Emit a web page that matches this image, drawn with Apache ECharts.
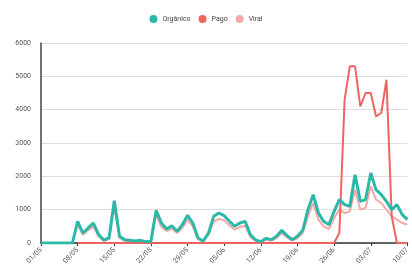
<!DOCTYPE html>
<html>
<head>
<meta charset="utf-8">
<script src="https://cdn.jsdelivr.net/npm/echarts@6/dist/echarts.min.js"></script>
<style>
  html, body { margin: 0; padding: 0; background: #fff; }
  #chart { width: 412px; height: 273px; }
</style>
</head>
<body>
<div id="chart"></div>
<script>
// dias (01/05 a 10/07)
const dias = [
  '01/05','02/05','03/05','04/05','05/05','06/05','07/05','08/05','09/05','10/05',
  '11/05','12/05','13/05','14/05','15/05','16/05','17/05','18/05','19/05','20/05',
  '21/05','22/05','23/05','24/05','25/05','26/05','27/05','28/05','29/05','30/05',
  '31/05','01/06','02/06','03/06','04/06','05/06','06/06','07/06','08/06','09/06',
  '10/06','11/06','12/06','13/06','14/06','15/06','16/06','17/06','18/06','19/06',
  '20/06','21/06','22/06','23/06','24/06','25/06','26/06','27/06','28/06','29/06',
  '30/06','01/07','02/07','03/07','04/07','05/07','06/07','07/07','08/07','09/07',
  '10/07'
];

const organico = [
  0, 0, 0, 0, 0, 0, 0, 650, 300, 450,
  600, 250, 90, 150, 1270, 200, 100, 80, 60, 80,
  40, 50, 980, 600, 420, 520, 350, 550, 830, 600,
  150, 60, 300, 800, 900, 820, 650, 500, 600, 650,
  250, 90, 40, 140, 100, 200, 380, 220, 100, 200,
  380, 1000, 1450, 900, 650, 550, 950, 1300, 1150, 1100,
  2050, 1250, 1300, 2100, 1600, 1450, 1250, 1000, 1150, 850,
  700
];

const pago = [
  null, null, null, null, null, null, null, 0, 0, 0,
  0, 0, 0, 0, 0, 0, 0, 0, 0, 0,
  0, 0, 0, 0, 0, 0, 0, 0, 0, 0,
  0, 0, 0, 0, 0, 0, 0, 0, 0, 0,
  0, 0, 0, 0, 0, 0, 0, 0, 0, 0,
  0, 0, 0, 0, 0, 0, 0, 300, 4300, 5300,
  5300, 4100, 4500, 4500, 3800, 3900, 4900, 800, 0, 0,
  0
];

const viral = [
  null, null, null, null, null, null, null, 550, 250, 380,
  500, 200, 60, 120, 1100, 150, 60, 50, 40, 50,
  30, 40, 850, 480, 360, 430, 300, 450, 700, 500,
  110, 40, 250, 650, 720, 680, 520, 400, 480, 520,
  180, 60, 30, 100, 70, 150, 300, 170, 70, 150,
  300, 800, 1200, 700, 500, 420, 750, 1000, 900, 950,
  1600, 1000, 1050, 1700, 1300, 1200, 1000, 800, 700, 600,
  550
];

const chart = echarts.init(document.getElementById('chart'));

const option = {
  animation: false,
  color: ['#2bb8a8', '#ef6461', '#f5a8a8'],
  legend: {
    top: 10,
    left: 'center',
    icon: 'circle',
    itemWidth: 8,
    itemHeight: 8,
    itemGap: 8,
    textStyle: { fontSize: 7, color: '#444', fontFamily: 'Roboto' },
    data: ['Orgânico', 'Pago', 'Viral']
  },
  grid: { left: 41, right: -8, top: 43, bottom: 30, containLabel: false },
  xAxis: {
    type: 'category',
    boundaryGap: false,
    data: dias,
    axisLine: { lineStyle: { color: '#333', width: 1.5 } },
    axisTick: { interval: 6, length: 3, lineStyle: { color: '#333' } },
    axisLabel: {
      interval: 6,
      rotate: 45,
      fontSize: 7,
      color: '#555',
      fontFamily: 'Roboto',
      margin: 6
    },
    splitLine: { show: false }
  },
  yAxis: {
    type: 'value',
    min: 0,
    max: 6000,
    interval: 1000,
    axisLine: { show: true, lineStyle: { color: '#444', width: 1.5 } },
    axisTick: { show: false },
    axisLabel: {
      fontSize: 7,
      color: '#555',
      fontFamily: 'Roboto',
      margin: 10,
      formatter: function (v) { return String(v); }
    },
    splitLine: { lineStyle: { color: '#ddd', width: 1 } }
  },
  series: [
    {
      name: 'Orgânico',
      type: 'line',
      data: organico,
      showSymbol: false,
      lineStyle: { width: 3 },
      z: 4
    },
    {
      name: 'Pago',
      type: 'line',
      data: pago,
      showSymbol: false,
      lineStyle: { width: 2 },
      z: 3
    },
    {
      name: 'Viral',
      type: 'line',
      data: viral,
      showSymbol: false,
      lineStyle: { width: 2 },
      z: 2
    }
  ]
};

chart.setOption(option);
</script>
</body>
</html>
